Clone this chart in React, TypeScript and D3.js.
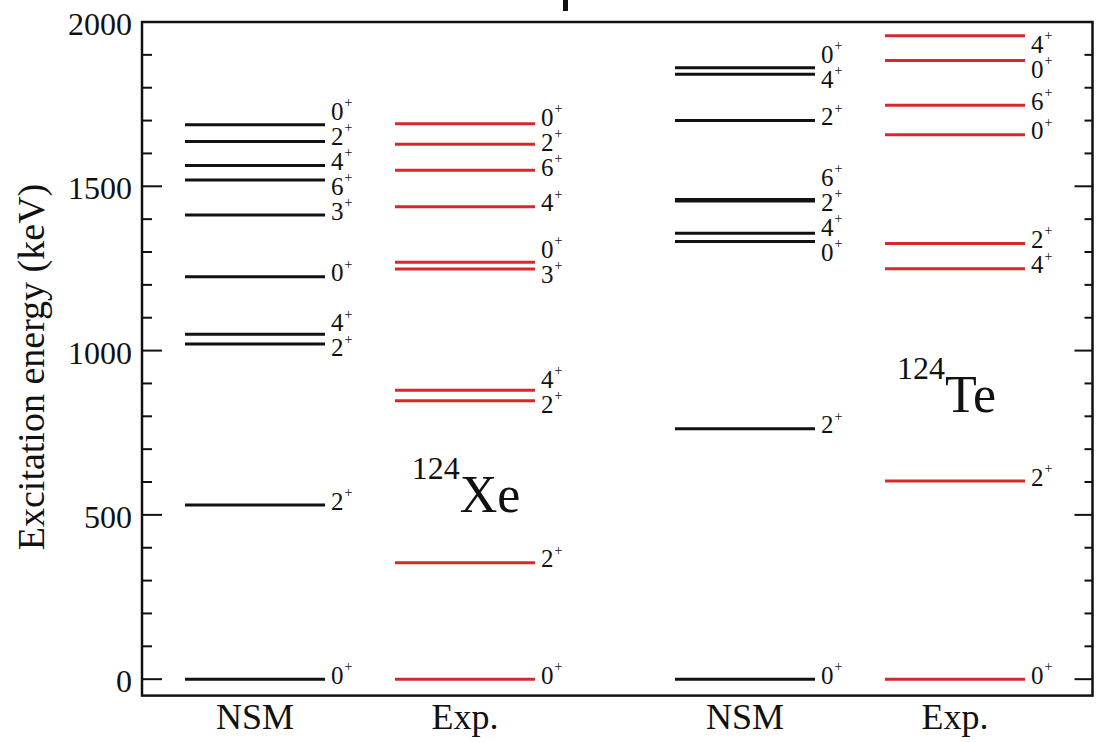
import React from "react";
import * as d3 from "d3";

// Level energies (keV) and spins for each column of the level scheme
const columnTitles = ["NSM", "Exp.", "NSM", "Exp."];

const xeNsmEnergies = [0, 530, 1020, 1050, 1225, 1413, 1519, 1563, 1636, 1687];
const xeNsmSpins = ["0", "2", "2", "4", "0", "3", "6", "4", "2", "0"];

const xeExpEnergies = [0, 354, 847, 879, 1248, 1269, 1438, 1549, 1628, 1690];
const xeExpSpins = ["0", "2", "2", "4", "3", "0", "4", "6", "2", "0"];

const teNsmEnergies = [0, 762, 1332, 1357, 1455, 1460, 1700, 1841, 1861];
const teNsmSpins = ["0", "2", "0", "4", "2", "6", "2", "4", "0"];

const teExpEnergies = [0, 603, 1249, 1326, 1657, 1747, 1883, 1958];
const teExpSpins = ["0", "2", "4", "2", "0", "6", "0", "4"];

const nucleusMasses = ["124", "124"];
const nucleusSymbols = ["Xe", "Te"];

const majorTicks = [0, 500, 1000, 1500, 2000];
const minorTicks = d3.range(0, 2001, 100).filter((v) => v % 500 !== 0);

const yTitle = "Excitation energy (keV)";

// Layout
const W = 1102;
const H = 742;
const frame = { left: 142, right: 1092.5, top: 22, bottom: 695.6 };
const BLACK = "#111111";
const RED = "#d8282b";
const FONT = "Liberation Serif, Times New Roman, Times, serif";

const y = d3.scaleLinear().domain([-50, 2000]).range([frame.bottom, frame.top]);
const x = d3.scaleLinear().domain([-0.614, 12.964]).range([frame.left, frame.right]);

const columnStarts = [0, 3, 7, 10];
const columnWidth = 2;

const columns = [
  { energies: xeNsmEnergies, spins: xeNsmSpins, color: BLACK },
  { energies: xeExpEnergies, spins: xeExpSpins, color: RED },
  { energies: teNsmEnergies, spins: teNsmSpins, color: BLACK },
  { energies: teExpEnergies, spins: teExpSpins, color: RED },
].map((c, i) => ({ ...c, title: columnTitles[i], x0: columnStarts[i] }));

// Spread spin labels vertically so neighbours keep a minimum gap,
// keeping each cluster centred on its levels and below a ceiling.
function spreadLabels(targets: number[], gap: number, ceiling: number): number[] {
  const order = d3.range(targets.length).sort((a, b) => targets[a] - targets[b]);
  const blocks: { idx: number[]; sum: number }[] = [];
  for (const i of order) {
    blocks.push({ idx: [i], sum: targets[i] });
    while (blocks.length > 1) {
      const b = blocks[blocks.length - 1];
      const a = blocks[blocks.length - 2];
      const topB = b.sum / b.idx.length - ((b.idx.length - 1) * gap) / 2;
      const botA = a.sum / a.idx.length + ((a.idx.length - 1) * gap) / 2;
      if (topB - botA >= gap) break;
      blocks.pop();
      a.idx.push(...b.idx);
      a.sum += b.sum;
    }
  }
  const out: number[] = new Array(targets.length);
  for (const b of blocks) {
    const n = b.idx.length;
    const top = b.sum / n - ((n - 1) * gap) / 2;
    b.idx.forEach((i, k) => {
      out[i] = top + k * gap;
    });
  }
  // keep the topmost labels clear of the frame
  let prev = -Infinity;
  order.forEach((i, k) => {
    const lo = k === 0 ? ceiling : prev + gap;
    if (out[i] < lo) out[i] = lo;
    prev = out[i];
  });
  return out;
}

// Nucleus name placement, in scale units (column units, keV)
const nucleusAnchors = [
  { xu: 3.24, e: 509 },
  { xu: 10.17, e: 813 },
];

export default function App() {
  return (
    <div style={{ position: "absolute", left: 0, top: 0 }}>
      <svg
        width={W}
        height={H}
        style={{ display: "block", background: "#fff", fontFamily: FONT }}
      >
        {/* stray mark above the frame */}
        <rect x={563} y={0} width={5} height={11} fill={BLACK} />

        {/* levels */}
        {columns.map((c, ci) => {
          const xa = x(c.x0);
          const xb = x(c.x0 + columnWidth);
          const centers = spreadLabels(
            c.energies.map((e) => y(e) - 4),
            25,
            frame.top + 22
          );
          return (
            <g key={ci}>
              {c.energies.map((e, i) => (
                <line
                  key={"l" + i}
                  x1={xa}
                  x2={xb}
                  y1={y(e)}
                  y2={y(e)}
                  stroke={c.color}
                  strokeWidth={3}
                />
              ))}
              {c.energies.map((e, i) => (
                <g key={"t" + i} fill={BLACK}>
                  <text x={xb + 6} y={centers[i] + 8.5} fontSize={25}>
                    {c.spins[i]}
                  </text>
                  <text x={xb + 19.5} y={centers[i] - 4} fontSize={14}>
                    +
                  </text>
                </g>
              ))}
              <text
                x={(xa + xb) / 2}
                y={729}
                fontSize={36}
                textAnchor="middle"
                fill={BLACK}
              >
                {c.title}
              </text>
            </g>
          );
        })}

        {/* nucleus names */}
        {nucleusAnchors.map((a, i) => (
          <text key={i} x={x(a.xu)} y={y(a.e)} fill={BLACK}>
            <tspan fontSize={32} dy={-33}>
              {nucleusMasses[i]}
            </tspan>
            <tspan fontSize={52} dy={33}>
              {nucleusSymbols[i]}
            </tspan>
          </text>
        ))}

        {/* ticks */}
        {majorTicks.map((v) => (
          <g key={"M" + v} stroke={BLACK} strokeWidth={2}>
            <line x1={frame.left} x2={frame.left + 20} y1={y(v)} y2={y(v)} />
            <line x1={frame.right} x2={frame.right - 18} y1={y(v)} y2={y(v)} />
          </g>
        ))}
        {minorTicks.map((v) => (
          <g key={"m" + v} stroke={BLACK} strokeWidth={2}>
            <line x1={frame.left} x2={frame.left + 10} y1={y(v)} y2={y(v)} />
            <line x1={frame.right} x2={frame.right - 8} y1={y(v)} y2={y(v)} />
          </g>
        ))}
        {majorTicks.map((v) => (
          <text key={"L" + v} x={132} y={y(v) + 13} fontSize={32} textAnchor="end" fill={BLACK}>
            {v}
          </text>
        ))}

        {/* frame */}
        <rect
          x={frame.left}
          y={frame.top}
          width={frame.right - frame.left}
          height={frame.bottom - frame.top}
          fill="none"
          stroke={BLACK}
          strokeWidth={2.5}
        />

        <text
          transform={`translate(44, 367) rotate(-90)`}
          fontSize={38}
          textAnchor="middle"
          fill={BLACK}
        >
          {yTitle}
        </text>
      </svg>
    </div>
  );
}
